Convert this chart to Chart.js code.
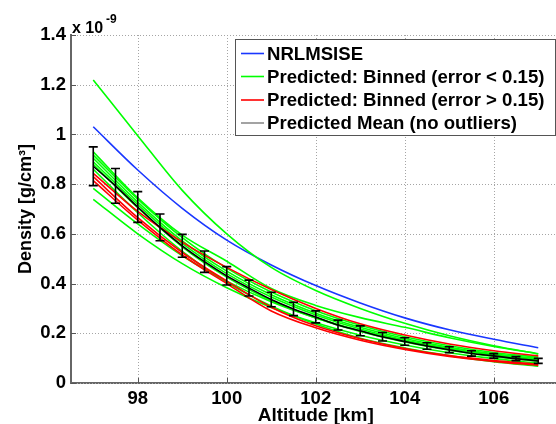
<!DOCTYPE html>
<html><head><meta charset="utf-8">
<script src="https://cdn.jsdelivr.net/npm/chart.js@4"></script>
<style>
html,body{margin:0;padding:0;background:#fff;overflow:hidden;width:556px;height:424px}
#wrap{position:absolute;left:0;top:0;width:580px;height:440px}
</style>
</head><body><div id="wrap"><canvas id="c" width="580" height="440"></canvas></div>
<script>
// ---- data (density in units of 1e-9 g/cm^3) ----
const altitude = [97, 98, 99, 100, 101, 102, 103, 104, 105, 106, 107];
const nrlmsise = [1.031, 0.857, 0.703, 0.575, 0.475, 0.392, 0.322, 0.262, 0.214, 0.176, 0.142];

const green1 = [1.219, 0.995, 0.775, 0.600, 0.465, 0.372, 0.300, 0.240, 0.190, 0.150, 0.117];
const green2 = [0.930, 0.745, 0.595, 0.490, 0.380, 0.312, 0.263, 0.224, 0.182, 0.147, 0.118];
const green3 = [0.917, 0.740, 0.585, 0.462, 0.366, 0.291, 0.232, 0.186, 0.150, 0.123, 0.104];
const green4 = [0.904, 0.728, 0.572, 0.450, 0.355, 0.281, 0.224, 0.179, 0.144, 0.117, 0.098];
const green5 = [0.890, 0.718, 0.562, 0.440, 0.346, 0.274, 0.217, 0.173, 0.139, 0.113, 0.094];
const green6 = [0.880, 0.705, 0.548, 0.426, 0.332, 0.262, 0.207, 0.165, 0.132, 0.107, 0.088];
const green7 = [0.783, 0.640, 0.512, 0.410, 0.327, 0.262, 0.210, 0.170, 0.138, 0.113, 0.093];
const green8 = [0.739, 0.600, 0.480, 0.383, 0.304, 0.242, 0.192, 0.153, 0.122, 0.098, 0.080];
const green9 = [0.860, 0.685, 0.530, 0.405, 0.310, 0.237, 0.180, 0.141, 0.110, 0.086, 0.068];

const red1 = [0.843, 0.690, 0.567, 0.465, 0.376, 0.300, 0.238, 0.193, 0.157, 0.130, 0.109];
const red2 = [0.830, 0.665, 0.525, 0.410, 0.305, 0.230, 0.178, 0.139, 0.110, 0.090, 0.075];
const red3 = [0.814, 0.655, 0.515, 0.400, 0.290, 0.222, 0.172, 0.135, 0.107, 0.087, 0.071];

const altitudeMean = [97, 97.5, 98, 98.5, 99, 99.5, 100, 100.5, 101, 101.5, 102, 102.5, 103, 103.5, 104, 104.5, 105, 105.5, 106, 106.5, 107];
const meanDensity = [0.872, 0.793, 0.708, 0.626, 0.552, 0.488, 0.431, 0.382, 0.336, 0.298, 0.266, 0.233, 0.210, 0.186, 0.167, 0.149, 0.134, 0.119, 0.109, 0.098, 0.089];
const meanError = [0.078, 0.070, 0.062, 0.054, 0.046, 0.043, 0.037, 0.032, 0.029, 0.027, 0.024, 0.020, 0.020, 0.017, 0.015, 0.013, 0.012, 0.011, 0.009, 0.008, 0.010];

const xTicks = [98, 100, 102, 104, 106];
const yTicks = [0, 0.2, 0.4, 0.6, 0.8, 1.0, 1.2, 1.4];
const legendLabels = ['NRLMSISE', 'Predicted: Binned (error < 0.15)', 'Predicted: Binned (error > 0.15)', 'Predicted Mean (no outliers)'];

const FONT = '"Liberation Sans", Arial, sans-serif';
const BLUE = 'rgb(25,55,255)', GREEN = 'rgb(0,255,0)', RED = 'rgb(255,0,0)';
const legendColors = [BLUE, GREEN, RED, 'rgb(140,140,140)'];

function pts(ys, xs) { return ys.map((v, i) => ({x: xs[i], y: v})); }
function line(data, color, order, w) {
  return {data: pts(data, altitude), borderColor: color, borderWidth: w || 1.6, pointRadius: 0,
          fill: false, cubicInterpolationMode: 'monotone', order: order};
}

const datasets = [
  {data: pts(meanDensity, altitudeMean), borderColor: '#000', borderWidth: 1.6, pointRadius: 0, fill: false,
   cubicInterpolationMode: 'monotone', order: 0},
  line(red1, RED, 1), line(red2, RED, 1), line(red3, RED, 1),
  line(green1, GREEN, 2), line(green2, GREEN, 2), line(green3, GREEN, 2), line(green4, GREEN, 2),
  line(green5, GREEN, 2), line(green6, GREEN, 2), line(green7, GREEN, 2), line(green8, GREEN, 2),
  line(green9, GREEN, 2),
  line(nrlmsise, BLUE, 3)
];

const overlay = {
  id: 'overlay',
  beforeDatasetsDraw(chart) {
    const ctx = chart.ctx, xs = chart.scales.x, ys = chart.scales.y, ca = chart.chartArea;
    ctx.save();
    ctx.strokeStyle = 'rgb(165,165,165)'; ctx.lineWidth = 1;
    ctx.setLineDash([1, 2]);
    ctx.beginPath();
    xTicks.forEach(v => { const x = Math.round(xs.getPixelForValue(v)) + 0.5; ctx.moveTo(x, ca.top); ctx.lineTo(x, ca.bottom); });
    yTicks.forEach(v => { const y = Math.round(ys.getPixelForValue(v)) + 0.5; ctx.moveTo(ca.left, y); ctx.lineTo(ca.right, y); });
    ctx.stroke();
    ctx.restore();
  },
  afterDatasetsDraw(chart) {
    const ctx = chart.ctx, xs = chart.scales.x, ys = chart.scales.y;
    ctx.save();
    ctx.strokeStyle = '#000'; ctx.lineWidth = 1.6;
    altitudeMean.forEach((a, i) => {
      const x = xs.getPixelForValue(a);
      const yt = ys.getPixelForValue(meanDensity[i] + meanError[i]);
      const yb = ys.getPixelForValue(meanDensity[i] - meanError[i]);
      ctx.beginPath();
      ctx.moveTo(x, yt); ctx.lineTo(x, yb);
      ctx.moveTo(x - 4.5, yt); ctx.lineTo(x + 4.5, yt);
      ctx.moveTo(x - 4.5, yb); ctx.lineTo(x + 4.5, yb);
      ctx.stroke();
    });
    ctx.restore();
  },
  afterDraw(chart) {
    const ctx = chart.ctx, xs = chart.scales.x, ys = chart.scales.y, ca = chart.chartArea;
    ctx.save();
    // inward tick marks
    ctx.strokeStyle = '#555'; ctx.lineWidth = 1;
    ctx.beginPath();
    xTicks.forEach(v => { const x = Math.round(xs.getPixelForValue(v)) + 0.5; ctx.moveTo(x, ca.bottom); ctx.lineTo(x, ca.bottom - 5); });
    yTicks.forEach(v => { const y = Math.round(ys.getPixelForValue(v)) + 0.5; ctx.moveTo(ca.left, y); ctx.lineTo(ca.left + 5, y); });
    ctx.stroke();
    // exponent label
    ctx.fillStyle = '#000';
    ctx.textBaseline = 'alphabetic'; ctx.textAlign = 'left';
    ctx.font = 'bold 16px ' + FONT;
    ctx.fillText('x 10', 72, 33);
    ctx.font = 'bold 12px ' + FONT;
    ctx.fillText('-9', 106, 23);
    // legend box
    const lx = 235.5, ly = 39.5, lw = 320, lh = 96;
    ctx.fillStyle = '#fff';
    ctx.fillRect(lx, ly, lw, lh);
    ctx.strokeStyle = '#555'; ctx.lineWidth = 1;
    ctx.strokeRect(lx, ly, lw, lh);
    const rows = [53.5, 76.5, 100, 123];
    ctx.font = 'bold 18.6px ' + FONT;
    ctx.textBaseline = 'middle';
    legendLabels.forEach((t, i) => {
      ctx.strokeStyle = legendColors[i]; ctx.lineWidth = 1.6;
      ctx.beginPath(); ctx.moveTo(241, rows[i]); ctx.lineTo(264, rows[i]); ctx.stroke();
      ctx.fillStyle = '#000';
      ctx.fillText(t, 267, rows[i] + 1);
    });
    ctx.restore();
  }
};

new Chart(document.getElementById('c'), {
  type: 'line',
  data: {datasets},
  options: {
    responsive: false, animation: false, devicePixelRatio: 1,
    layout: {padding: {top: 35, right: 19.5, left: 0, bottom: 0}},
    plugins: {legend: {display: false}, tooltip: {enabled: false}},
    scales: {
      x: {
        type: 'linear', min: 96.5, max: 107.5,
        afterBuildTicks: s => { s.ticks = xTicks.map(v => ({value: v})); },
        afterFit: s => { s.height = 57; },
        grid: {color: 'rgba(0,0,0,0)', lineWidth: 1, drawTicks: false},
        border: {display: true, color: '#666', width: 2},
        ticks: {color: '#000', padding: 5, maxRotation: 0, font: {family: FONT, size: 18.5, weight: 'bold'},
                callback: v => String(v)},
        title: {display: true, text: 'Altitude [km]', color: '#000',
                font: {family: FONT, size: 19, weight: 'bold'}, padding: {top: 0, bottom: 13}}
      },
      y: {
        type: 'linear', min: 0, max: 1.4,
        afterBuildTicks: s => { s.ticks = yTicks.map(v => ({value: v})); },
        afterFit: s => { s.width = 71; },
        grid: {color: 'rgba(0,0,0,0)', lineWidth: 1, drawTicks: false},
        border: {display: true, color: '#666', width: 2},
        ticks: {color: '#000', padding: 5, font: {family: FONT, size: 18.5, weight: 'bold'},
                callback: v => String(Number(v.toFixed(1)))},
        title: {display: true, text: 'Density [g/cm³]', color: '#000',
                font: {family: FONT, size: 18, weight: 'bold'}, padding: {top: 15, bottom: 0}}
      }
    }
  },
  plugins: [overlay]
});
</script></body></html>
